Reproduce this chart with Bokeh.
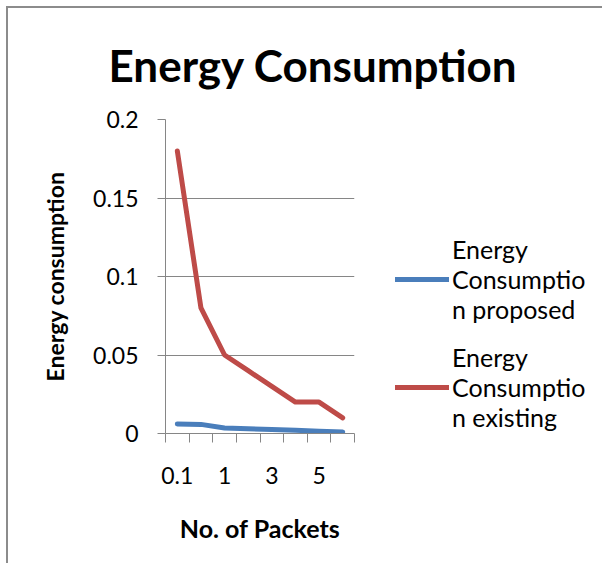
from bokeh.plotting import figure
from bokeh.models import (Range1d, FixedTicker, NumeralTickFormatter, Legend, LegendItem, ColumnDataSource)
from bokeh.embed import file_html
from bokeh.resources import INLINE

# ---- data ----
packets = ["0.1", "0.5", "1", "2", "3", "4", "5", "6"]
shown_labels = ["0.1", "1", "3", "5"]
energy_proposed = [0.006, 0.0058, 0.0035, 0.003, 0.0025, 0.002, 0.0015, 0.001]
energy_existing = [0.18, 0.08, 0.05, 0.04, 0.03, 0.02, 0.02, 0.01]
y_ticks = [0, 0.05, 0.1, 0.15, 0.2]

FONT = "Lato"
GRAY = "#868686"
BLUE = "#4A7EBB"
RED = "#BE4B48"

n = len(packets)
centers = [i + 0.5 for i in range(n)]      # category slots (Excel-style category axis)
edges = list(range(n + 1))

src = ColumnDataSource(dict(x=centers, p=energy_proposed, e=energy_existing))

p = figure(frame_width=189, frame_height=314, x_range=Range1d(0, n),
           y_range=Range1d(0, 0.2), output_backend="svg", toolbar_location=None,
           min_border_left=157, min_border_right=0, min_border_top=111, min_border_bottom=130)
p.styles = {"margin-left": "6px", "margin-top": "6px",
            "border-left": "2px solid #8c8c8c", "border-top": "2px solid #8c8c8c"}
p.outline_line_color = None
p.background_fill_color = "white"
p.border_fill_color = "white"

# title
p.title.text = "Energy Consumption"
p.title.text_font = FONT
p.title.text_font_size = "44px"
p.title.text_font_style = "bold"
p.title.text_color = "black"
p.title.align = "left"
p.title.offset = -57
p.title.standoff = 57

# lines
r_prop = p.line("x", "p", source=src, line_color=BLUE, line_width=5, line_cap="round", line_join="round")
r_exist = p.line("x", "e", source=src, line_color=RED, line_width=5, line_cap="round", line_join="round")

# y axis
ya = p.yaxis[0]
ya.ticker = FixedTicker(ticks=y_ticks)
ya.formatter = NumeralTickFormatter(format="0.[00]")
ya.axis_line_color = GRAY
ya.major_tick_line_color = GRAY
ya.major_tick_out = 8
ya.major_tick_in = 0
ya.minor_tick_line_color = None
ya.major_label_standoff = 19
ya.major_label_text_font = FONT
ya.major_label_text_font_size = "23px"
ya.major_label_text_color = "black"
ya.axis_label = "Energy consumption"
ya.axis_label_text_font = FONT
ya.axis_label_text_font_size = "23px"
ya.axis_label_text_font_style = "bold"
ya.axis_label_text_color = "black"
ya.axis_label_standoff = 21

p.ygrid.grid_line_color = GRAY
p.ygrid.ticker = FixedTicker(ticks=y_ticks)
p.xgrid.grid_line_color = None

# x axis: labels at slot centres, tick marks at slot boundaries
xa = p.xaxis[0]
xa.ticker = FixedTicker(ticks=centers, minor_ticks=edges)
xa.major_label_overrides = {c: (lab if lab in shown_labels else "") for c, lab in zip(centers, packets)}
xa.axis_line_color = GRAY
xa.major_tick_line_color = None
xa.minor_tick_line_color = GRAY
xa.minor_tick_out = 9
xa.minor_tick_in = 0
xa.major_tick_out = 9
xa.major_tick_in = 0
xa.major_label_standoff = 24
xa.major_label_text_font = FONT
xa.major_label_text_font_size = "23px"
xa.major_label_text_color = "black"
xa.axis_label = "No. of Packets"
xa.axis_label_text_font = FONT
xa.axis_label_text_font_size = "25px"
xa.axis_label_text_font_style = "bold"
xa.axis_label_text_color = "black"
xa.axis_label_standoff = 26

# legend
legend = Legend(items=[LegendItem(label="Energy\nConsumptio\nn proposed", renderers=[r_prop]),
                       LegendItem(label="Energy\nConsumptio\nn existing", renderers=[r_exist])],
                location=(41, 1), label_text_font=FONT, label_text_font_size="25px",
                label_text_color="black", label_text_line_height=1.65,
                glyph_width=54, glyph_height=20, label_standoff=3, spacing=18,
                margin=22, padding=0,
                border_line_color=None, background_fill_alpha=0)
p.add_layout(legend, "right")

open("out.html", "w").write(file_html(p, INLINE))
